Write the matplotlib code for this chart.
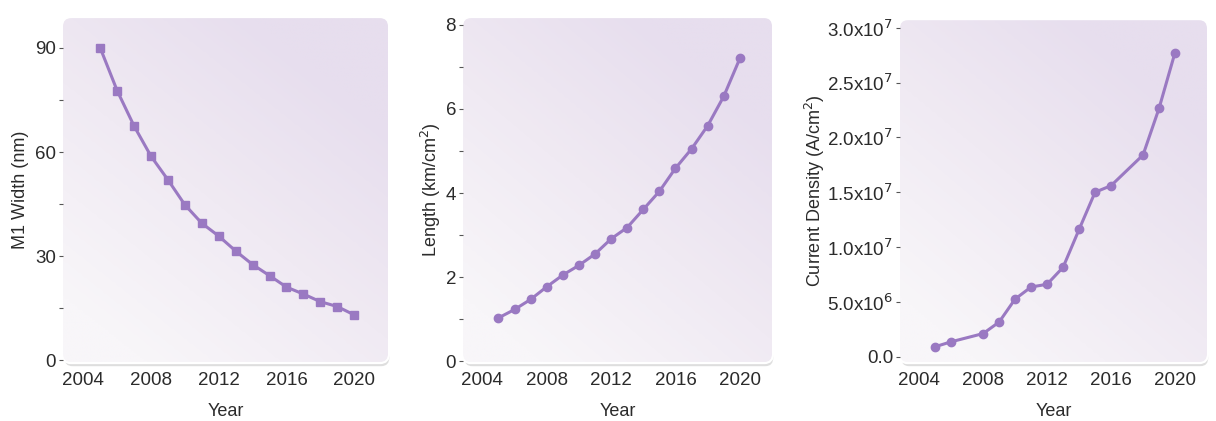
import numpy as np
import matplotlib
matplotlib.use('Agg')
import matplotlib.pyplot as plt
from matplotlib.patches import FancyBboxPatch
from matplotlib.ticker import FixedLocator, FuncFormatter
from matplotlib.colors import LinearSegmentedColormap

# data
years_w = [2005, 2006, 2007, 2008, 2009, 2010, 2011, 2012, 2013, 2014, 2015, 2016, 2017, 2018, 2019, 2020]
m1_width = [90, 77.7, 67.5, 58.8, 52.0, 44.8, 39.5, 35.8, 31.5, 27.6, 24.4, 21.1, 19.1, 16.9, 15.5, 13.1]

years_l = [2005, 2006, 2007, 2008, 2009, 2010, 2011, 2012, 2013, 2014, 2015, 2016, 2017, 2018, 2019, 2020]
length = [1.03, 1.23, 1.47, 1.77, 2.05, 2.28, 2.55, 2.91, 3.18, 3.61, 4.04, 4.59, 5.05, 5.60, 6.30, 7.20]

years_j = [2005, 2006, 2008, 2009, 2010, 2011, 2012, 2013, 2014, 2015, 2016, 2018, 2019, 2020]
current_density = [0.9e6, 1.35e6, 2.1e6, 3.15e6, 5.25e6, 6.35e6, 6.6e6, 8.15e6, 11.6e6,
                   15.0e6, 15.6e6, 18.4e6, 22.65e6, 27.75e6]

year_ticks = [2004, 2008, 2012, 2016, 2020]

LINE = '#9a79c2'
TXT = '#2b2b2b'
plt.rcParams['font.family'] = ['Liberation Sans', 'DejaVu Sans']

fig = plt.figure(figsize=(12.16, 4.21), dpi=100)
fig.patch.set_facecolor('white')

grad_cmap = LinearSegmentedColormap.from_list('lav', ['#f8f6f9', '#f0eaf3', '#e7deee'])


def decorate(ax):
    for s in ax.spines.values():
        s.set_visible(False)
    ax.set_facecolor('none')
    # shadow
    sh = FancyBboxPatch((0.004, -0.012), 1.0, 1.0, boxstyle='round,pad=0,rounding_size=0.025',
                        transform=ax.transAxes, facecolor='#c9c9c9', edgecolor='none',
                        alpha=0.6, zorder=0, clip_on=False)
    ax.add_patch(sh)
    box = FancyBboxPatch((0, 0), 1, 1, boxstyle='round,pad=0,rounding_size=0.025',
                         transform=ax.transAxes, facecolor='white', edgecolor='white',
                         linewidth=3, zorder=0.5, clip_on=False)
    ax.add_patch(box)
    xx, yy = np.meshgrid(np.linspace(0, 1, 200), np.linspace(0, 1, 200))
    g = np.clip(0.6 * xx + 0.8 * yy - 0.15, 0, 1)
    im = ax.imshow(g, extent=(0, 1, 0, 1), origin='lower', transform=ax.transAxes,
                   cmap=grad_cmap, aspect='auto', zorder=0.6, interpolation='bilinear')
    im.set_clip_path(box)
    ax.set_xlim(2002.8, 2022.0)
    ax.xaxis.set_major_locator(FixedLocator(year_ticks))
    ax.tick_params(axis='x', length=0, pad=7, labelsize=13.5, labelcolor=TXT)
    ax.tick_params(axis='y', which='both', length=3, width=0.8, color='#555555',
                   pad=2, labelsize=13.5, labelcolor=TXT)
    ax.set_xlabel('Year', fontsize=13, color=TXT, labelpad=10)


# panel 1
ax1 = fig.add_axes([0.0518, 0.140, 0.2673, 0.817])
decorate(ax1)
ax1.plot(years_w, m1_width, color=LINE, lw=2.2, marker='s', ms=6, zorder=3)
ax1.set_ylim(-0.5, 98.6)
ax1.yaxis.set_major_locator(FixedLocator([0, 30, 60, 90]))
ax1.yaxis.set_minor_locator(FixedLocator([15, 45, 75]))
ax1.set_ylabel('M1 Width (nm)', fontsize=13, color=TXT, labelpad=4)

# panel 2
ax2 = fig.add_axes([0.3808, 0.140, 0.2541, 0.817])
decorate(ax2)
ax2.plot(years_l, length, color=LINE, lw=2.2, marker='o', ms=6, zorder=3)
ax2.set_ylim(-0.02, 8.16)
ax2.yaxis.set_major_locator(FixedLocator([0, 2, 4, 6, 8]))
ax2.yaxis.set_minor_locator(FixedLocator([1, 3, 5, 7]))
ax2.set_ylabel('Length (km/cm$^2$)', fontsize=13, color=TXT, labelpad=2)

# panel 3
ax3 = fig.add_axes([0.7401, 0.140, 0.2525, 0.812])
decorate(ax3)
ax3.plot(years_j, current_density, color=LINE, lw=2.2, marker='o', ms=6, zorder=3)
ax3.set_ylim(-0.05e7, 3.07e7)
ax3.yaxis.set_major_locator(FixedLocator([0, 0.5e7, 1.0e7, 1.5e7, 2.0e7, 2.5e7, 3.0e7]))


def sci_fmt(v, pos):
    if v == 0:
        return '0.0'
    e = int(np.floor(np.log10(v)))
    return '%.1fx10$^{%d}$' % (v / 10 ** e, e)


ax3.yaxis.set_major_formatter(FuncFormatter(sci_fmt))
ax3.set_ylabel('Current Density (A/cm$^2$)', fontsize=13, color=TXT, labelpad=0)

fig.savefig('out.png', dpi=100)
